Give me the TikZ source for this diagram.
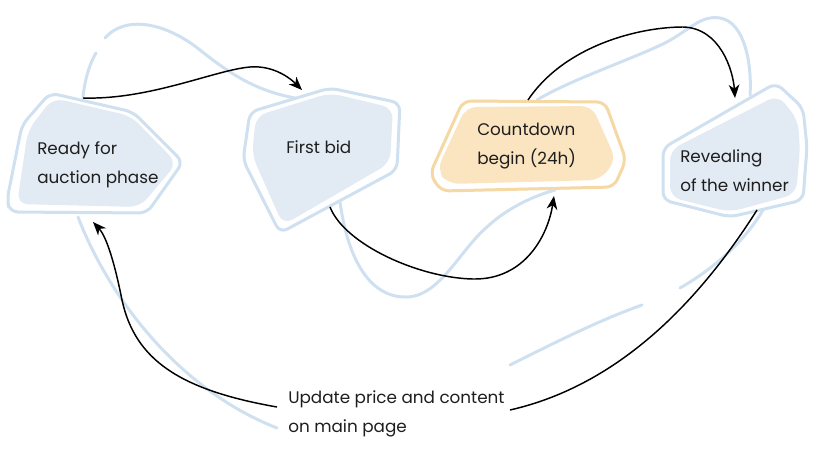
\documentclass[tikz,border=0pt]{standalone}
\usepackage{fontspec}
\setmainfont{Poppins}
\usetikzlibrary{arrows.meta}
\definecolor{bstroke}{RGB}{207,224,240}
\definecolor{bfill}{RGB}{226,235,244}
\definecolor{ofill}{RGB}{251,229,192}
\definecolor{ostroke}{RGB}{245,216,163}
\definecolor{txt}{RGB}{30,30,30}
\begin{document}
\begin{tikzpicture}[x=0.75pt,y=-0.75pt,
  bg/.style={draw=bstroke,line width=2.25pt,line cap=round},
  outl/.style={draw=#1,line width=2.25pt,fill=white,rounded corners=6pt},
  innerfill/.style={fill=#1,rounded corners=8pt},
  conn/.style={draw=black,line width=1.1pt},
  arr/.style={conn,-{Stealth[length=10pt,width=8pt,inset=3pt]}},
  lbl/.style={anchor=base west,inner sep=0pt,text=txt,font=\fontsize{12.6pt}{15pt}\selectfont}]
\useasboundingbox (0,0) rectangle (816,450);

% background strokes
\draw[bg] (83,97) .. controls (85,78) and (90,63) .. (96,53);
\draw[bg] (105,38) .. controls (125,15) and (165,22) .. (200,50) .. controls (235,78) and (260,92) .. (300,99);
\draw[bg] (537,100) .. controls (570,80) and (630,60) .. (665,43) .. controls (690,30) and (700,15) .. (720,18) .. controls (745,22) and (752,65) .. (750,95);
\draw[bg] (78,217) .. controls (110,300) and (180,390) .. (277,428);
\draw[bg] (340,202) .. controls (348,260) and (370,298) .. (407,297) .. controls (440,296) and (460,250) .. (487,227) .. controls (505,210) and (530,197) .. (555,190);
\draw[bg] (680,288) .. controls (720,265) and (750,235) .. (767,203);
\draw[bg] (510,365) .. controls (560,340) and (600,320) .. (642,305);

% node 1
\path[outl=bstroke] (50,93) -- (133,112) -- (183,162) -- (147,213) -- (10,212) -- (7,200) -- (22,125) -- cycle;
\path[innerfill=bfill] (53,98) -- (131,116) -- (177,163) -- (140,207) -- (17,204) -- (28,130) -- cycle;
% node 2
\path[outl=bstroke] (330,88) -- (400,103) -- (397,170) -- (280,233) -- (243,160) -- (250,112) -- cycle;
\path[innerfill=bfill] (330,93) -- (393,108) -- (390,163) -- (283,225) -- (252,155) -- (256,116) -- cycle;
% node 3
\path[outl=ostroke] (463,101) -- (605,102) -- (626,160) -- (614,187) -- (441,191) -- (430,174) -- cycle;
\path[innerfill=ofill] (466,107) -- (592,106) -- (616,160) -- (600,180) -- (448,184) -- (437,170) -- cycle;
% node 4
\path[outl=bstroke] (776,83) -- (803,108) -- (807,147) -- (803,200) -- (730,217) -- (663,200) -- (663,148) -- cycle;
\path[innerfill=bfill] (778,95) -- (798,120) -- (800,150) -- (796,194) -- (730,212) -- (670,197) -- (670,150) -- cycle;

% labels
\node[lbl] (t1a) at (37,154) {Ready for};
\node[lbl] (t1b) at (37,183) {auction phase};
\node[lbl] (t2) at (286,153) {First bid};
\node[lbl] (t3a) at (477,135) {Countdown};
\node[lbl] (t3b) at (477,164) {begin (24h)};
\node[lbl] (t4a) at (680,162) {Revealing};
\node[lbl] (t4b) at (680,191) {of the winner};
\node[lbl] (t5a) at (288,403) {Update price and content};
\node[lbl] (t5b) at (288,432) {on main page};

% connector end points
\coordinate (r1top) at (83,98);
\coordinate (r2in) at (302,90);
\coordinate (r2out) at (330,207);
\coordinate (r3in) at (554,196);
\coordinate (r3out) at (528,100);
\coordinate (r4in) at (735,98);
\coordinate (r4out) at (757,210);
\coordinate (uR) at (510,410);
\coordinate (uL) at (277,407);
\coordinate (r1in) at (93,222);

% connectors
\draw[arr] (r1top) .. controls (150,100) and (215,70) .. (250,67) .. controls (275,65) and (292,80) .. (r2in);
\draw[arr] (r2out) .. controls (345,245) and (420,278) .. (473,279) .. controls (525,280) and (548,235) .. (r3in);
\draw[arr] (r3out) .. controls (565,45) and (640,27) .. (683,27) .. controls (720,28) and (733,70) .. (r4in);
\draw[conn] (uR) .. controls (620,385) and (700,300) .. (r4out);
\draw[arr] (uL) .. controls (180,390) and (135,360) .. (122,300) .. controls (113,255) and (105,235) .. (r1in);
\end{tikzpicture}
\end{document}
